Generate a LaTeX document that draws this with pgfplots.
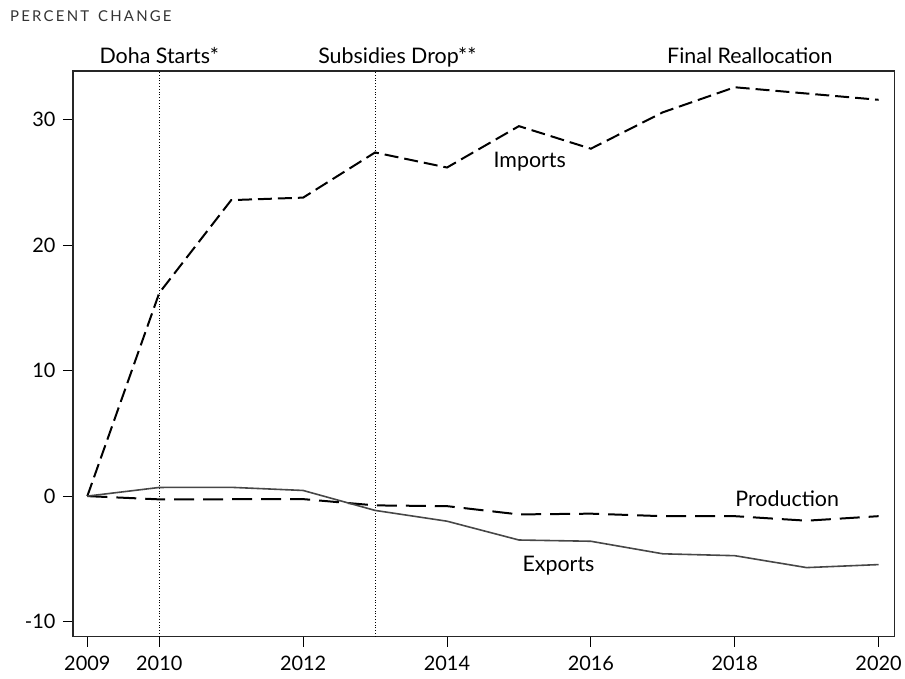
\documentclass[border=0pt]{standalone}
\usepackage{pgfplots}
\pgfplotsset{compat=1.18}
\usepackage{fontspec}
\setmainfont{Lato}
\begin{document}
\begin{tikzpicture}
\begin{axis}[
  name=ax,
  scale only axis,
  width=822bp, height=566bp,
  xmin=2008.8, xmax=2020.22,
  ymin=-11.2, ymax=33.9,
  axis line style={line width=1.3bp, black!85},
  xtick={2009,2010,2012,2014,2016,2018,2020},
  xticklabels={2009,2010,2012,2014,2016,2018,2020},
  ytick={-10,0,10,20,30},
  yticklabels={-10,0,10,20,30},
  xtick pos=bottom, ytick pos=left,
  tick align=outside,
  major tick length=10bp,
  tick style={line width=0.8bp, black},
  ticklabel style={font=\fontsize{20}{23}\selectfont},
  xticklabel style={yshift=-6bp},
  yticklabel style={xshift=-4bp},
  clip=false,
]
\addplot[black, dotted, line width=0.8bp] coordinates {(2010,-11.2) (2010,33.9)};
\addplot[black, dotted, line width=0.8bp] coordinates {(2013,-11.2) (2013,33.9)};
% Imports
\addplot[black, line width=2bp, dash pattern=on 14bp off 6bp] coordinates {
(2009,0) (2010,16.2) (2011,23.6) (2012,23.8) (2013,27.4) (2014,26.2) (2015,29.5)
(2016,27.7) (2017,30.6) (2018,32.6) (2019,32.1) (2020,31.6)};
% Production
\addplot[black, line width=2bp, dash pattern=on 20bp off 9bp] coordinates {
(2009,0) (2010,-0.26) (2011,-0.25) (2012,-0.24) (2013,-0.74) (2014,-0.8) (2015,-1.46)
(2016,-1.4) (2017,-1.6) (2018,-1.6) (2019,-1.96) (2020,-1.6)};
% Exports
\addplot[black!72, line width=1.6bp] coordinates {
(2009,0) (2010,0.69) (2011,0.7) (2012,0.45) (2013,-1.14) (2014,-2.0) (2015,-3.5)
(2016,-3.6) (2017,-4.6) (2018,-4.75) (2019,-5.7) (2020,-5.46)};
\node[font=\fontsize{21.5}{24}\selectfont] at (axis cs:2015.15,26.7) {Imports};
\node[font=\fontsize{21.5}{24}\selectfont] at (axis cs:2018.73,-0.18) {Production};
\node[font=\fontsize{21.5}{24}\selectfont] at (axis cs:2015.55,-5.57) {Exports};
\node[font=\fontsize{21.5}{24}\selectfont, anchor=base] at ([yshift=7bp]axis cs:2010,33.9) {Doha Starts*};
\node[font=\fontsize{21.5}{24}\selectfont, anchor=base] at ([yshift=7bp]axis cs:2013.31,33.9) {Subsidies Drop**};
\node[font=\fontsize{21.5}{24}\selectfont, anchor=base] at ([yshift=7bp]axis cs:2018.21,33.9) {Final Reallocation};
\end{axis}
\node[anchor=base west, inner sep=0pt, font=\fontsize{15}{17}\selectfont, text=black!80] at ([xshift=-63bp,yshift=49bp]ax.north west) {P\kern2.2bp E\kern2.2bp R\kern2.2bp C\kern2.2bp E\kern2.2bp N\kern2.2bp T\kern9bp C\kern2.2bp H\kern2.2bp A\kern2.2bp N\kern2.2bp G\kern2.2bp E};
\path[use as bounding box] ([xshift=-73bp,yshift=-42bp]ax.south west) rectangle ([xshift=10bp,yshift=71bp]ax.north east);
\end{tikzpicture}
\end{document}
